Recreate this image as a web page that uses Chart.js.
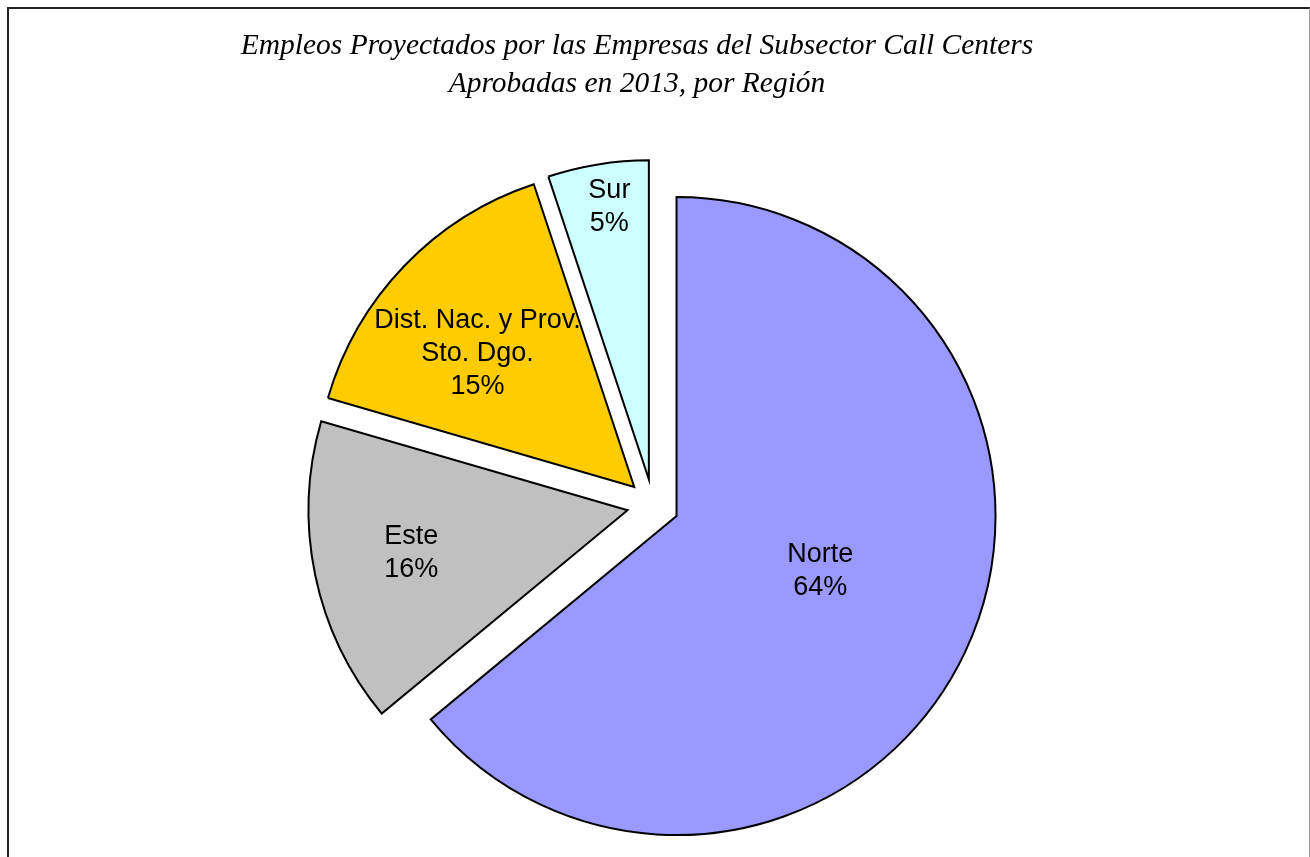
<!DOCTYPE html>
<html>
<head>
<meta charset="utf-8">
<script src="https://cdn.jsdelivr.net/npm/chart.js@4"></script>
<style>
  html, body { margin: 0; padding: 0; background: #fff; overflow: hidden; }
  #frame { position: absolute; left: 7px; top: 7px; width: 1300px; height: 900px;
           border-left: 2px solid #222; border-top: 2px solid #222; border-right: 1px solid #999; }
  #wrap { position: absolute; left: 0; top: 0; width: 1310px; height: 857px; }
</style>
</head>
<body>
<div id="frame"></div>
<div id="wrap"><canvas id="pieChart"></canvas></div>
<script>
const titleLines = ["Empleos Proyectados por las Empresas del Subsector Call Centers", "Aprobadas en 2013, por Región"];
const regions = ["Norte", "Este", ["Dist. Nac. y Prov.", "Sto. Dgo."], "Sur"];
const empleos = [640, 155, 154, 51];
const colors = ["#9999ff", "#c0c0c0", "#ffcc00", "#ccffff"];

// label placement (fraction of radius, turn in degrees) and explode distance
const labelRadius = [0.48, 0.69, 0.65, 0.87];
const labelTurn = [-5, 1, -3, 1];
const EXPLODE = 26;
const LINE_GAP = 33;

// push each slice out along its middle angle, like Excel's exploded pie
const explodePlugin = {
    id: "explode",
    afterDatasetUpdate(chart, args) {
        args.meta.data.forEach(arc => {
            const mid = (arc.startAngle + arc.endAngle) / 2;
            arc.x += Math.cos(mid) * EXPLODE;
            arc.y += Math.sin(mid) * EXPLODE;
        });
    }
};

const labelPlugin = {
    id: "sliceLabels",
    afterDatasetsDraw(chart) {
        const ctx = chart.ctx;
        const meta = chart.getDatasetMeta(0);
        const data = chart.data.datasets[0].data;
        const total = data.reduce((a, b) => a + b, 0);
        ctx.save();
        ctx.font = '27px "Liberation Sans", Arial, sans-serif';
        ctx.fillStyle = "#000";
        ctx.textAlign = "center";
        ctx.textBaseline = "alphabetic";
        meta.data.forEach((arc, i) => {
            const lines = [].concat(chart.data.labels[i], Math.round(data[i] * 100 / total) + "%");
            const a = (arc.startAngle + arc.endAngle) / 2 + labelTurn[i] * Math.PI / 180;
            const r = arc.outerRadius * labelRadius[i];
            const cx = arc.x + Math.cos(a) * r;
            const cy = arc.y + Math.sin(a) * r;
            const top = cy - (lines.length - 1) * LINE_GAP / 2;
            lines.forEach((t, k) => ctx.fillText(t, cx, top + k * LINE_GAP + 9.5));
        });
        ctx.restore();
    }
};

const titlePlugin = {
    id: "excelTitle",
    afterDraw(chart) {
        const ctx = chart.ctx;
        ctx.save();
        ctx.font = 'italic 29.5px "Liberation Serif", "Times New Roman", serif';
        ctx.fillStyle = "#000";
        ctx.textAlign = "center";
        ctx.textBaseline = "alphabetic";
        titleLines.forEach((t, k) => ctx.fillText(t, 637, 54 + k * 38));
        ctx.restore();
    }
};

new Chart(document.getElementById("pieChart").getContext("2d"), {
    type: "pie",
    data: {
        labels: regions,
        datasets: [{
            data: empleos,
            backgroundColor: colors,
            borderColor: "#000",
            borderWidth: 2,
            borderJoinStyle: "miter"
        }]
    },
    options: {
        responsive: true,
        maintainAspectRatio: false,
        animation: false,
        radius: 319,
        layout: { padding: { left: 0, right: 4, top: 153, bottom: 0 } },
        plugins: {
            legend: { display: false },
            tooltip: { enabled: false },
            title: { display: false }
        }
    },
    plugins: [explodePlugin, labelPlugin, titlePlugin]
});
</script>
</body>
</html>
